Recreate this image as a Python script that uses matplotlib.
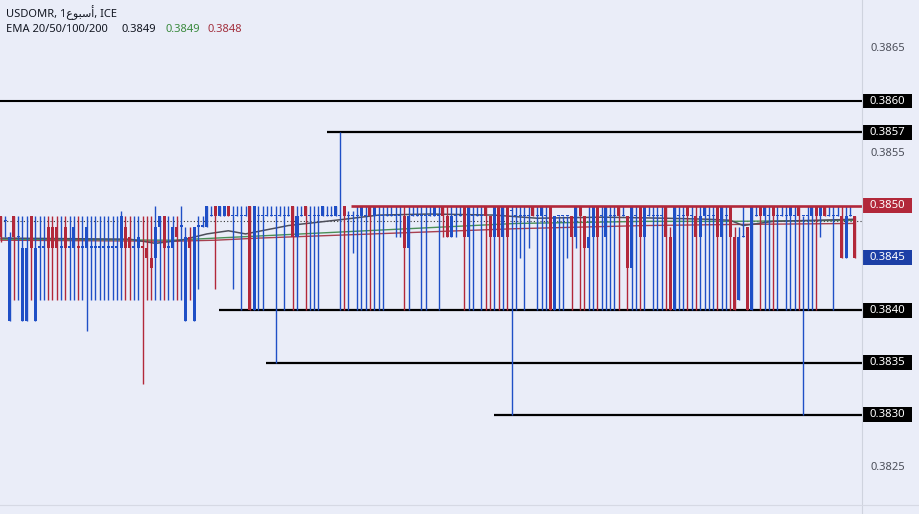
import numpy as np
import matplotlib.pyplot as plt
from matplotlib.patches import Rectangle

# weekly USDOMR candles, prices in pips above 0.3800 (1 pip = 0.0001)
opens = [49, 48.5, 39, 49, 47, 39, 39, 49, 39, 46,
         46, 48, 48, 48, 46, 48, 46, 46, 46.1, 46,
         46, 46, 46, 46, 46, 46, 46, 46, 46, 48,
         47, 46, 46, 46.1, 46, 45, 45, 48, 49, 46,
         46, 48, 48, 39, 47, 39, 48, 48, 48, 49,
         50, 49, 49, 50, 49, 49, 49, 49, 50, 40,
         49, 49, 49, 49, 49, 49, 49, 49, 50, 47,
         49, 50, 49, 49, 49, 49, 49, 49, 49, 49,
         50, 49, 49, 49, 49, 49, 50, 49, 49, 49,
         49, 49, 49, 49, 49, 46, 49, 49, 49, 49,
         49, 49, 49, 50, 49, 47, 49, 49, 50, 47,
         49, 49, 49, 50, 49, 47, 50, 47, 50, 49.5,
         49, 49, 49, 49, 50, 49, 49, 49, 50, 40,
         49, 49, 49, 49, 47, 50, 49, 46, 47, 50,
         49, 47, 49, 49, 50, 49, 49, 44, 49, 50,
         47, 49, 49, 49, 49, 50, 47, 40, 49, 49,
         50, 49, 49, 47, 49, 49, 49, 50, 47, 49,
         50, 47, 41, 47, 48, 40, 49, 50, 49, 49,
         50, 49, 49, 49, 49, 49, 50, 49, 49, 49,
         50, 49, 50, 49, 49, 49, 49, 45, 49, 49]
highs = [49, 49, 47.5, 49, 49, 49, 49, 49, 49, 49,
         49, 49, 49, 49, 49, 49, 49, 49, 49, 49,
         49, 49, 49, 49, 49, 49, 49, 49, 49.5, 49,
         49, 49, 49, 49, 49, 49, 50, 49, 49, 49,
         49, 49, 50, 48, 48, 48, 49, 49, 50, 50,
         50, 50, 50, 50, 50, 50, 50, 50, 50, 50,
         50, 50, 50, 50, 50, 50, 50, 50, 50, 50,
         50, 50, 50, 50, 50, 50, 50, 50, 50, 57,
         50, 49.5, 49.5, 50, 50, 50, 50, 50, 50, 50,
         50, 50, 50, 50, 50, 50, 50, 50, 50, 50,
         50, 50, 50, 50, 50, 50, 50, 50, 50, 50,
         50, 50, 50, 50, 49, 50, 50, 50, 50, 50,
         50, 50, 50, 50, 50, 50, 50, 50, 50, 49,
         49, 49, 49, 49, 50, 50, 49, 50, 50, 50,
         50, 50, 50, 50, 50, 50, 49, 50, 50, 50,
         50, 50, 50, 50, 50, 50, 48, 50, 50, 50,
         50, 50, 50, 50, 50, 50, 50, 50, 50, 50,
         50, 48, 48, 50, 48, 50, 50, 50, 50, 50,
         50, 50, 50, 50, 50, 50, 50, 49, 50, 50,
         50, 50, 50, 50, 50, 50, 50, 50, 50, 49]
lows = [46.5, 47, 39, 41, 41, 39, 39, 41, 39, 41,
        41, 41, 41, 41, 41, 41, 41, 41, 41, 41,
        38, 41, 41, 41, 41, 41, 41, 41, 41, 41,
        41, 41, 41, 33, 41, 41, 41, 41, 41, 41,
        41, 41, 41, 39, 41, 39, 42, 48, 48, 49,
        42, 49, 49, 49, 42, 49, 40, 49, 40, 40,
        40, 40, 49, 49, 35, 49, 40, 49, 40, 40,
        49, 40, 40, 40, 40, 49, 49, 49, 49, 40,
        40, 40, 45.5, 40, 40, 40, 40, 40, 40, 40,
        49, 49, 47, 47, 40, 40, 49, 49, 40, 40,
        49, 49, 40, 47, 47, 47, 47, 49, 40, 40,
        40, 49, 40, 40, 40, 40, 40, 40, 40, 30,
        40, 45, 40, 46, 49, 40, 40, 40, 40, 40,
        40, 40, 45, 40, 46, 40, 40, 40, 40, 40,
        40, 40, 40, 40, 40, 49, 40, 40, 40, 40,
        40, 49, 40, 40, 40, 40, 40, 40, 40, 40,
        40, 40, 40, 40, 40, 40, 40, 40, 40, 40,
        40, 40, 41, 47, 40, 40, 49, 40, 40, 40,
        40, 40, 49, 40, 40, 40, 40, 30, 40, 40,
        40, 47, 49, 49, 40, 49, 45, 45, 49, 45]
closes = [47, 48.5, 47, 47, 47, 46, 46, 46, 46, 46,
          46, 46, 46, 46, 46, 46, 46, 48, 46, 46,
          48, 46, 46, 46, 46, 46, 46, 46, 49, 46,
          46, 46, 47, 46, 45, 44, 48, 49, 46, 46,
          48, 47, 48, 47, 46, 48, 48, 48, 50, 49,
          49, 50, 50, 49, 49, 49, 49, 49, 40, 50,
          49, 49, 49, 49, 49, 49, 49, 49, 47, 49,
          49, 49, 49, 49, 49, 50, 49, 49, 50, 49,
          49, 49, 49, 49, 50, 49, 49, 50, 49, 49,
          49, 49, 49, 49, 46, 49, 49, 49, 49, 49,
          49, 50, 49, 49, 47, 49, 49, 49, 47, 50,
          49, 49, 49, 49, 47, 50, 47, 50, 47, 49.5,
          49, 49, 49, 49, 49, 49, 50, 49, 40, 49,
          49, 49, 49, 47, 50, 49, 46, 47, 50, 47,
          49, 50, 49, 49, 49, 49, 44, 50, 49, 47,
          50, 49, 49, 49, 49, 47, 40, 50, 49, 49,
          49, 49, 47, 49, 50, 49, 49, 47, 50, 49,
          47, 40, 47, 47, 40, 50, 49, 49, 50, 49,
          49, 49, 49, 49, 50, 49, 49, 49, 49, 50,
          49, 50, 49, 49, 49, 49, 45, 49, 49, 45]

# EMA readings (pips) at some candle indices
ema_idx = [0, 30, 36, 42, 48, 53, 57, 67, 80, 88, 100, 115, 125, 140, 155, 165, 170, 173, 180, 199]
ema20 = [46.9, 46.8, 46.4, 46.7, 47.3, 47.6, 47.3, 48.1, 48.7, 49.1, 49.2, 49.1, 48.8, 48.9, 48.8, 48.7, 48.6, 48.1, 48.5, 48.7]
ema_idx2 = [0, 40, 50, 60, 80, 100, 120, 150, 170, 199]
ema50 = [46.8, 46.7, 46.9, 47.1, 47.5, 47.9, 48.3, 48.5, 48.5, 48.6]
ema100 = [46.7, 46.6, 46.7, 46.9, 47.2, 47.5, 47.8, 48.1, 48.2, 48.3]

# horizontal levels and where each starts (candle position)
levels = [0.3860, 0.3857, 0.3840, 0.3835, 0.3830]
level_starts = [-0.23, 76.0, 50.8, 61.8, 114.9]
red_level = 0.3850
red_start = 81.6
last_price = 0.3845
price_line = 0.38485
plain_ticks = [0.3865, 0.3855, 0.3825]

BASE, PIP = 0.38, 0.0001
o = BASE + np.array(opens) * PIP
h = BASE + np.array(highs) * PIP
l = BASE + np.array(lows) * PIP
c = BASE + np.array(closes) * PIP
x = np.arange(len(o))

UP = '#1f4fc6'
DOWN = '#b2283a'
BG = '#eaedf8'

W, H = 919, 514
fig = plt.figure(figsize=(W / 100, H / 100), dpi=100, facecolor=BG)
ax = fig.add_axes([0, 9 / H, 862 / W, 505 / H], facecolor=BG)
ax.set_xlim(-0.23, 200.7)
ax.set_ylim(0.382140, 0.386965)
ax.axis('off')

# levels
ax.axhline(levels[0], color='black', lw=1.5, zorder=1)
for lv, st in zip(levels[1:], level_starts[1:]):
    ax.plot([st, 200.7], [lv, lv], color='black', lw=1.6, zorder=1, solid_capstyle='butt')
ax.plot([-0.23, 200.7], [price_line] * 2, color='#333333', lw=0.8, ls=(0, (1, 2)), zorder=1)

# EMAs
ax.plot(ema_idx2, BASE + np.array(ema100) * PIP, color='#a8404f', lw=1.0, zorder=2)
ax.plot(ema_idx2, BASE + np.array(ema50) * PIP, color='#4a8f57', lw=1.0, zorder=2)
ax.plot(ema_idx, BASE + np.array(ema20) * PIP, color='#4d4f5a', lw=1.1, zorder=2)

# candles
cols = np.where(c >= o, UP, DOWN)
ax.vlines(x, l, h, colors=cols, lw=1.0, zorder=3)
body_lo = np.minimum(o, c)
body_h = np.maximum(np.abs(c - o), 1.1e-5)
ax.bar(x, body_h, bottom=body_lo, width=0.7, color=cols, linewidth=0, zorder=3)

ax.plot([red_start, 200.7], [red_level] * 2, color=DOWN, lw=1.9, zorder=4, solid_capstyle='butt')

# right scale
tr = ax.get_yaxis_transform()
bx0 = 863 / 862
bw = 49 / 862
bh = 15 * 9.55e-6
tx = 887.5 / 862
for lv in levels + [red_level, last_price]:
    fc = 'black'
    if lv == red_level:
        fc = DOWN
    elif lv == last_price:
        fc = '#1c3fa6'
    ax.add_patch(Rectangle((bx0, lv - bh / 2), bw, bh, transform=tr, facecolor=fc,
                           edgecolor='none', clip_on=False, zorder=5))
    ax.text(tx, lv, f'{lv:.4f}', transform=tr, ha='center', va='center', color='white',
            fontsize=8.2, fontweight='bold', family=['Noto Sans', 'DejaVu Sans'], clip_on=False, zorder=6)
for lv in plain_ticks:
    ax.text(tx, lv, f'{lv:.4f}', transform=tr, ha='center', va='center', color='#4c4f5a',
            fontsize=8, family=['Noto Sans', 'DejaVu Sans'], clip_on=False)

fig.add_artist(plt.Line2D([862 / W, 862 / W], [0, 1], color='#cfd3de', lw=0.8))
fig.add_artist(plt.Line2D([0, 1], [9 / H, 9 / H], color='#d6d9e4', lw=0.8))

# header
fam = ['Noto Sans', 'DejaVu Sans']
fig.text(6 / W, 1 - 13 / H, 'USDOMR, 1\uFEC9\uFEEE\uFE92\uFEB3\uFE83, ICE', color='#131722',
         fontsize=8, va='center', family=fam)
fig.text(6 / W, 1 - 29 / H, 'EMA 20/50/100/200', color='#131722', fontsize=8, va='center', family=fam)
fig.text(122 / W, 1 - 29 / H, '0.3849', color='#131722', fontsize=8, va='center', family=fam)
fig.text(166 / W, 1 - 29 / H, '0.3849', color='#3a8a3e', fontsize=8, va='center', family=fam)
fig.text(208 / W, 1 - 29 / H, '0.3848', color='#a3303e', fontsize=8, va='center', family=fam)

fig.savefig('out.png', dpi=100, facecolor=BG)
